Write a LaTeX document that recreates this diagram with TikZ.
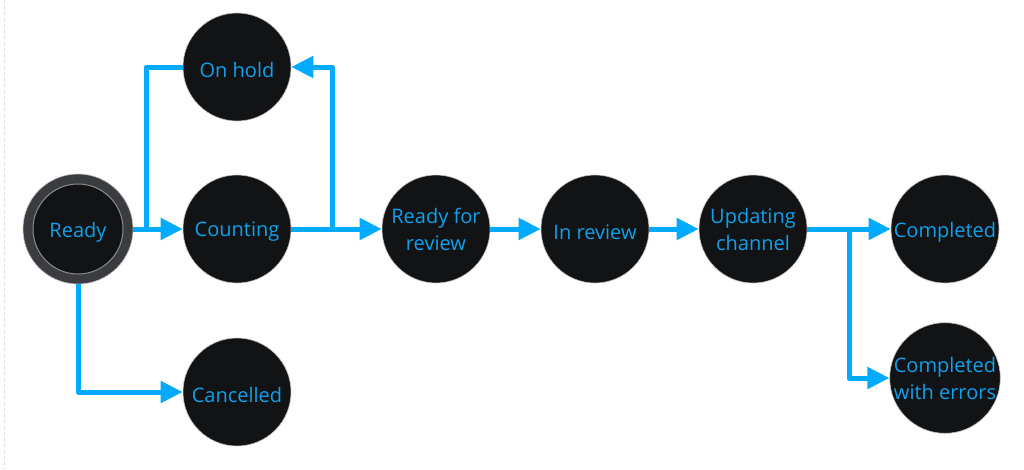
\documentclass[tikz,border=0pt]{standalone}
\usepackage{fontspec}
\setmainfont{Open Sans}
\usetikzlibrary{arrows.meta}
\definecolor{linec}{RGB}{0,170,255}
\definecolor{textc}{RGB}{16,160,236}
\definecolor{nodec}{RGB}{18,19,20}
\definecolor{ringc}{RGB}{58,60,63}
\newcommand{\lowtxt}[1]{\raisebox{-3pt}[\height][\depth]{#1}}
\tikzset{
  state/.style={circle, fill=nodec, draw=black!25, line width=0.6pt, minimum size=108pt, inner sep=0pt,
    text=textc, align=center, font=\fontsize{20}{27}\selectfont},
  link/.style={draw=linec, line width=5pt, line join=round},
  conn/.style={link, -{Triangle[length=22pt,width=21pt]}},
}
\begin{document}
\begin{tikzpicture}[x=1pt,y=-1pt]
\useasboundingbox[fill=white] (0,0) rectangle (1024,469);
\draw[black!14, dashed, line width=0.8pt] (4,0) -- (4,469);
% nodes
\node[circle, fill=ringc, draw=black!25, line width=0.6pt, minimum size=110pt, inner sep=0pt] (ready) at (78,229) {};
\node[state, minimum size=90pt, draw=black!45, line width=1pt] (readyin) at (78,229) {\lowtxt{Ready}};
\node[state] (onhold) at (237,67) {\lowtxt{On hold}};
\node[state] (counting) at (237,229) {\lowtxt{Counting}};
\node[state] (cancelled) at (237,392) {\lowtxt{Cancelled}};
\node[state] (rfr) at (436,229) {Ready for\\review};
\node[state] (inreview) at (595,229) {\lowtxt{In review}};
\node[state] (updating) at (753,229) {Updating\\channel};
\node[state] (completed) at (945,229) {\lowtxt{Completed}};
\node[state] (cwe) at (945,378) {Completed\\with errors};
% junctions
\coordinate (j1) at (146,229);
\coordinate (j2) at (332,229);
\coordinate (j3) at (849,229);
% connectors
\draw[conn] (ready) -- (counting);
\draw[link] (onhold.west) -| (j1);
\draw[conn] (counting) -- (rfr);
\draw[conn] (j2) |- (onhold.east);
\draw[conn] (ready.south) |- (cancelled.west);
\draw[conn] (rfr) -- (inreview);
\draw[conn] (inreview) -- (updating);
\draw[conn] (updating) -- (completed);
\draw[conn] (j3) |- (cwe.west);
\end{tikzpicture}
\end{document}
